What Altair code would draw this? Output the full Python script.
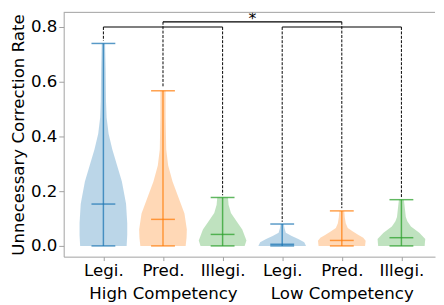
import altair as alt
import pandas as pd

# ---- data ----
positions = [1, 2, 3, 4, 5, 6]
conditions = ["Legi.", "Pred.", "Illegi.", "Legi.", "Pred.", "Illegi."]
groups = ["High Competency", "Low Competency"]
cat_order = ["Legi.", "Pred.", "Illegi."]
cat_colors = ["#1f77b4", "#ff7f0e", "#2ca02c"]

minima = [0.0, 0.0, 0.0, 0.0, 0.0, 0.0]
maxima = [0.740, 0.567, 0.177, 0.080, 0.128, 0.169]
medians = [0.153, 0.097, 0.042, 0.006, 0.020, 0.030]

# violin outlines: value along y, half-width in x units
prof_values = [
    [0, 0.04, 0.083, 0.154, 0.235, 0.294, 0.352, 0.41, 0.469, 0.527, 0.645, 0.74],
    [0, 0.03, 0.06, 0.118, 0.177, 0.235, 0.294, 0.352, 0.469, 0.567],
    [0, 0.02, 0.06, 0.095, 0.12, 0.15, 0.177],
    [0, 0.013, 0.025, 0.036, 0.048, 0.065, 0.08],
    [0, 0.019, 0.03, 0.04, 0.054, 0.065, 0.083, 0.105, 0.128],
    [0, 0.025, 0.048, 0.071, 0.09, 0.106, 0.153, 0.169],
]
prof_halfwidths = [
    [0.39, 0.40, 0.40, 0.38, 0.31, 0.23, 0.15, 0.087, 0.054, 0.044, 0.038, 0.028],
    [0.38, 0.395, 0.40, 0.36, 0.26, 0.16, 0.087, 0.054, 0.044, 0.044],
    [0.37, 0.40, 0.33, 0.22, 0.14, 0.10, 0.09],
    [0.40, 0.37, 0.27, 0.16, 0.06, 0.038, 0.028],
    [0.39, 0.40, 0.36, 0.28, 0.18, 0.10, 0.066, 0.05, 0.041],
    [0.39, 0.40, 0.30, 0.16, 0.10, 0.074, 0.05, 0.041],
]

# significance brackets
bracket_left = [1, 4, 2]
bracket_right = [3, 6, 5]
bracket_height = [0.800, 0.800, 0.819]
leg_pos = [1, 3, 4, 6, 2, 5]
leg_top = [0.800, 0.800, 0.800, 0.800, 0.819, 0.819]
leg_bottom = [0.750, 0.185, 0.088, 0.177, 0.578, 0.138]
star_text = ["*"]
star_pos = [3.5]
star_y = [0.810]

y_ticks = [0.0, 0.2, 0.4, 0.6, 0.8]
y_title = "Unnecessary Correction Rate"

# ---- tables ----
rows = []
for i, (vals, hws) in enumerate(zip(prof_values, prof_halfwidths)):
    for v, h in zip(vals, hws):
        rows.append({"vid": i, "pos": positions[i], "cond": conditions[i], "value": v, "hw": h})
prof = pd.DataFrame(rows)

stats = pd.DataFrame({"pos": positions, "cond": conditions, "vmin": minima,
                      "vmax": maxima, "vmed": medians})
caps = pd.concat([
    pd.DataFrame({"pos": positions, "cond": conditions, "v": minima}),
    pd.DataFrame({"pos": positions, "cond": conditions, "v": maxima}),
    pd.DataFrame({"pos": positions, "cond": conditions, "v": medians}),
])
brackets = pd.DataFrame({"x1": bracket_left, "x2": bracket_right, "y": bracket_height})
legs = pd.DataFrame({"x": leg_pos, "ytop": leg_top, "ybot": leg_bottom})
star = pd.DataFrame({"x": star_pos, "y": star_y, "t": star_text})

FONT = "DejaVu Sans"
W, H = 380, 250
xdom = [0.334, 6.564]
ydom = [-0.0393, 0.8536]


def lab(i):
    c = conditions[i]
    if i == 1:
        return "['%s','%s']" % (c, groups[0])
    if i == 4:
        return "['%s','%s']" % (c, groups[1])
    return "'%s'" % c


expr = ""
for i, p in enumerate(positions):
    expr += "datum.value == %d ? %s : " % (p, lab(i))
expr += "''"

xscale = alt.Scale(domain=xdom, nice=False, zero=False)
yscale = alt.Scale(domain=ydom, nice=False, zero=False)
cscale = alt.Scale(domain=cat_order, range=cat_colors)

xaxis = alt.Axis(values=positions, labelExpr=expr, title=None, grid=False,
                 labelFontSize=17, labelFont=FONT, labelColor="black",
                 labelLineHeight=24, tickSize=4, labelPadding=2,
                 labelOverlap=False, labelBound=False, labelFlush=False,
                 domainColor="#a0a0a0", tickColor="#a0a0a0")
yaxis = alt.Axis(values=y_ticks, format=".1f", title=y_title, grid=False,
                 labelFontSize=17, labelFont=FONT, labelColor="black",
                 labelOverlap=False,
                 titleFontSize=17, titleFont=FONT, titleFontWeight="normal",
                 titleColor="black", titlePadding=3,
                 tickSize=5, labelPadding=2,
                 domainColor="#a0a0a0", tickColor="#a0a0a0")

area = alt.Chart(prof).transform_calculate(
    xl="datum.pos - datum.hw", xr="datum.pos + datum.hw"
).mark_area(orient="horizontal", opacity=0.3).encode(
    y=alt.Y("value:Q", scale=yscale, axis=yaxis),
    x=alt.X("xl:Q", scale=xscale, axis=xaxis, stack=None),
    x2="xr:Q",
    color=alt.Color("cond:N", scale=cscale, legend=None),
    detail="vid:N",
)

vbars = alt.Chart(stats).mark_rule(strokeWidth=1.5, opacity=0.75).encode(
    x="pos:Q", y="vmin:Q", y2="vmax:Q",
    color=alt.Color("cond:N", scale=cscale, legend=None),
)

caprules = alt.Chart(caps).transform_calculate(
    a="datum.pos - 0.2", b="datum.pos + 0.2"
).mark_rule(strokeWidth=1.5, opacity=0.75).encode(
    x="a:Q", x2="b:Q", y="v:Q",
    color=alt.Color("cond:N", scale=cscale, legend=None),
)

brk = alt.Chart(brackets).mark_rule(color="black", strokeWidth=1.2).encode(
    x="x1:Q", x2="x2:Q", y="y:Q")

legrules = alt.Chart(legs).mark_rule(color="black", strokeWidth=1, strokeDash=[3, 1.5]).encode(
    x="x:Q", y="ytop:Q", y2="ybot:Q")

startext = alt.Chart(star).mark_text(fontSize=16, font=FONT, color="black",
                                     baseline="alphabetic", align="center").encode(
    x="x:Q", y="y:Q", text="t:N")

topline = alt.Chart(star).mark_rule(color="#a0a0a0", strokeWidth=1).encode(
    x=alt.value(0), x2=alt.value(W), y=alt.value(0))

chart = alt.layer(area, vbars, caprules, brk, legrules, startext, topline).properties(
    width=W, height=H,
    padding={"left": 1, "top": 0, "right": 0, "bottom": 0},
).configure_view(strokeWidth=0)

chart.save("out.html", embed_options={"renderer": "svg", "actions": False})
